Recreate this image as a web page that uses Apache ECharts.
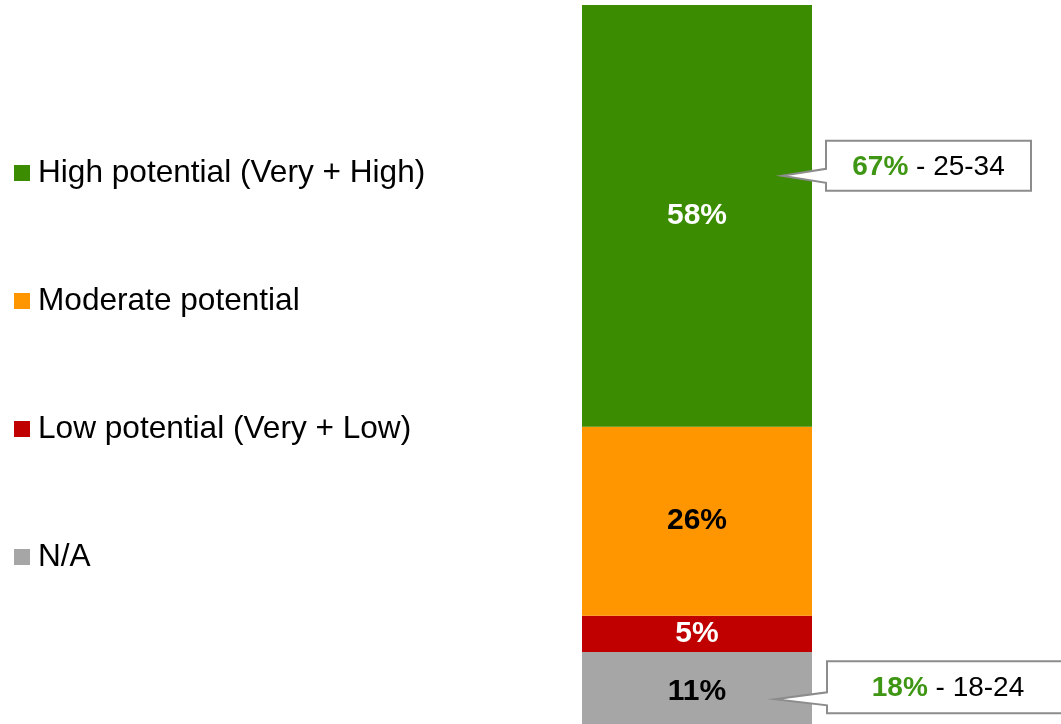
<!DOCTYPE html>
<html>
<head>
<meta charset="utf-8">
<style>
  html, body { margin: 0; padding: 0; background: #ffffff; }
  #chart { width: 1061px; height: 724px; }
</style>
<script src="https://cdn.jsdelivr.net/npm/echarts@6/dist/echarts.min.js"></script>
</head>
<body>
<div id="chart"></div>
<script>
// Single stacked bar of potential ratings, plus two age-group callouts
const categories = ['Total'];
const seriesNames = ['High potential (Very + High)', 'Moderate potential', 'Low potential (Very + Low)', 'N/A'];
const highValues = [58];
const moderateValues = [26];
const lowValues = [5];
const naValues = [11];

// Callout contents: highlighted share and the age group it refers to
const calloutShares = ['67%', '18%'];
const calloutAges = ['25-34', '18-24'];

const FONT = "'Liberation Sans', Arial, sans-serif";
const COLORS = {
  high: '#3b8c00',
  moderate: '#ff9600',
  low: '#c00000',
  na: '#a6a6a6',
  calloutGreen: '#3f9614',
  calloutBorder: '#8c8c8c'
};

const chart = echarts.init(document.getElementById('chart'), null, { renderer: 'canvas' });

function barSeries(name, data, color, labelColor) {
  return {
    name: name,
    type: 'bar',
    stack: 'total',
    data: data,
    barWidth: '100%',
    itemStyle: { color: color },
    label: {
      show: true,
      position: 'inside',
      formatter: '{c}%',
      color: labelColor,
      fontFamily: FONT,
      fontWeight: 'bold',
      fontSize: 30
    },
    emphasis: { disabled: true }
  };
}

chart.setOption({
  animation: false,
  backgroundColor: '#ffffff',
  // the bar runs a little past the bottom edge of the page
  grid: { left: 582, width: 230, top: 5, height: 727, outerBoundsMode: 'none', containLabel: false },
  xAxis: {
    type: 'category',
    data: categories,
    show: false
  },
  yAxis: {
    type: 'value',
    min: 0,
    max: 100,
    show: false
  },
  legend: {
    orient: 'vertical',
    left: 9,
    top: 152,
    itemGap: 96,
    itemWidth: 16,
    itemHeight: 16,
    icon: 'rect',
    selectedMode: false,
    data: [seriesNames[0], seriesNames[1], seriesNames[2], seriesNames[3]],
    textStyle: { fontFamily: FONT, fontSize: 31.6, color: '#000000', padding: [0, 0, 0, 3] }
  },
  series: [
    barSeries(seriesNames[3], naValues, COLORS.na, '#000000'),
    barSeries(seriesNames[2], lowValues, COLORS.low, '#ffffff'),
    barSeries(seriesNames[1], moderateValues, COLORS.moderate, '#000000'),
    barSeries(seriesNames[0], highValues, COLORS.high, '#ffffff')
  ]
});

// Callouts pointing into the bar: anchor height (axis value), box geometry in px
const calloutLayout = [
  { anchor: 76.5, tipInset: 30, gap: 44, width: 205, height: 50, boxTop: -35, notchUp: 7, notchDown: 7 },
  { anchor: 4.5, tipInset: 37, gap: 52, width: 242, height: 52, boxTop: -38, notchUp: 7, notchDown: 6 }
];

const grid = chart.getModel().getComponent('grid', 0).coordinateSystem.getRect();
const rightEdge = grid.x + grid.width;

const graphics = calloutLayout.map(function (c, i) {
  const tip = chart.convertToPixel({ xAxisIndex: 0, yAxisIndex: 0 }, [0, c.anchor]);
  const tipX = rightEdge - c.tipInset;
  const tipY = tip[1];
  const bx = tipX + c.gap;
  const by = tipY + c.boxTop;
  const pts = [
    [bx, by], [bx + c.width, by], [bx + c.width, by + c.height], [bx, by + c.height],
    [bx, tipY + c.notchDown], [tipX, tipY], [bx, tipY - c.notchUp]
  ];
  return {
    type: 'group',
    children: [
      {
        type: 'polygon',
        shape: { points: pts },
        style: { fill: '#ffffff', stroke: COLORS.calloutBorder, lineWidth: 2 },
        z: 10
      },
      {
        type: 'text',
        x: bx + c.width / 2,
        y: by + c.height / 2 + 1,
        style: {
          text: '{g|' + calloutShares[i] + '}{k| - ' + calloutAges[i] + '}',
          align: 'center',
          verticalAlign: 'middle',
          rich: {
            g: { fontFamily: FONT, fontSize: 28, fontWeight: 'bold', fill: COLORS.calloutGreen },
            k: { fontFamily: FONT, fontSize: 28, fill: '#000000' }
          }
        },
        z: 11
      }
    ]
  };
});

chart.setOption({ graphic: graphics });
</script>
</body>
</html>
